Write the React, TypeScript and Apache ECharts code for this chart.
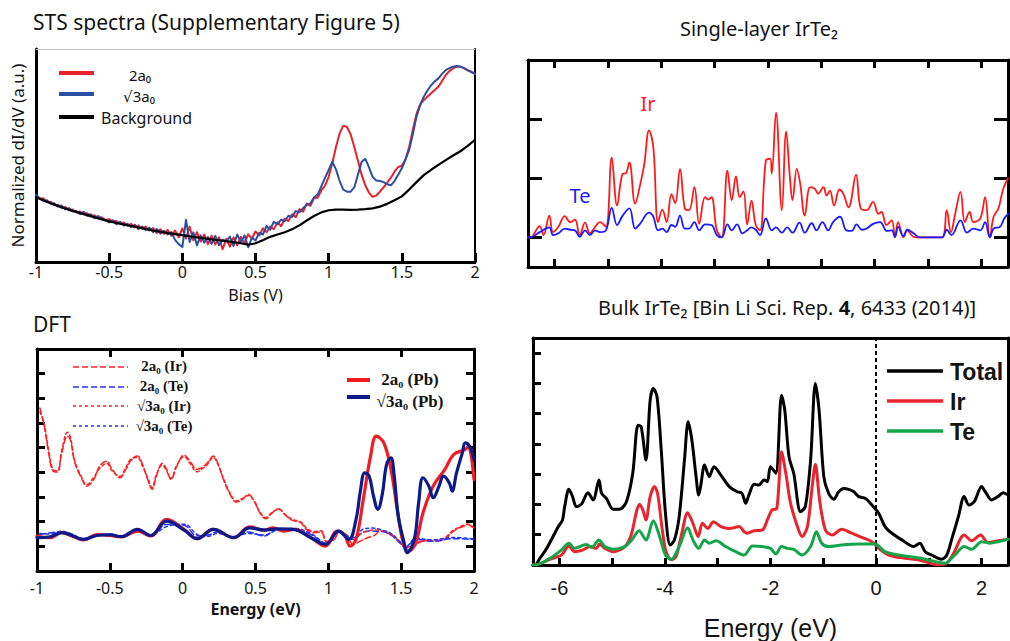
import React, { useEffect, useRef } from "react";
import * as echarts from "echarts";

// ---------------- STS spectra (top-left) ----------------
const STS_START = -1;
const STS_STEP = 0.025;
const STS_RED_2A0 = [
  31.0, 29.6, 29.9, 28.0, 28.3, 26.7, 26.9, 25.4, 25.8, 24.3,
  24.6, 23.3, 23.7, 22.4, 22.9, 21.4, 22.0, 20.5, 21.0, 19.7,
  20.1, 18.9, 19.3, 17.8, 18.6, 17.0, 17.9, 16.2, 17.2, 15.6,
  16.6, 14.8, 15.9, 13.6, 15.4, 13.2, 15.0, 12.4, 14.8, 11.6,
  15.8, 11.0, 16.6, 10.2, 14.0, 9.6, 12.9, 8.4, 12.4, 8.2,
  11.6, 6.0, 10.8, 7.2, 11.6, 7.8, 11.8, 8.8, 13.0, 11.0,
  14.3, 12.4, 15.8, 14.0, 16.6, 15.4, 18.6, 16.8, 20.4, 19.2,
  22.4, 21.0, 24.8, 23.6, 27.4, 26.4, 30.0, 30.2, 33.6, 35.8,
  40.0, 46.5, 54.0, 60.5, 64.0, 63.4, 60.0, 54.0, 47.5, 41.0,
  36.0, 32.6, 30.6, 31.2, 33.0, 35.0, 37.2, 39.6, 42.4, 44.6,
  45.2, 48.2, 54.0, 62.0, 69.5, 74.0, 76.0, 77.6, 79.2, 80.8,
  82.3, 85.0, 87.8, 89.6, 90.9, 91.8, 91.7, 91.0, 90.1, 89.3, 88.3,
];
const STS_BLUE_SQRT3 = [
  31.6, 29.9, 28.7, 29.0, 27.3, 27.6, 26.0, 26.5, 24.7, 25.3,
  23.8, 24.0, 22.5, 23.6, 21.7, 22.4, 20.5, 21.6, 20.3, 19.9,
  18.6, 19.7, 17.7, 18.9, 17.1, 18.0, 16.3, 17.5, 15.4, 16.7,
  14.9, 16.1, 14.0, 15.5, 13.3, 14.7, 12.9, 14.1, 10.4, 8.4,
  7.0, 19.8, 9.4, 13.9, 7.8, 12.5, 9.1, 11.7, 8.5, 12.3,
  7.9, 10.5, 9.7, 11.9, 7.5, 12.9, 9.3, 12.5, 6.9, 11.3,
  10.1, 13.7, 12.9, 16.9, 15.1, 18.9, 17.7, 19.9, 19.1, 21.7,
  21.1, 23.9, 23.3, 25.3, 26.9, 27.5, 30.4, 31.6, 35.5, 39.5,
  43.2, 47.0, 43.5, 38.0, 34.0, 33.0, 33.0, 35.0, 41.0, 47.0,
  48.5, 44.5, 40.0, 38.3, 38.0, 37.5, 36.5, 36.0, 38.0, 41.0,
  44.0, 48.0, 52.6, 60.0, 68.2, 73.5, 77.6, 80.5, 83.0, 84.8,
  86.2, 88.3, 90.1, 91.0, 91.7, 92.0, 91.7, 91.0, 90.0, 89.2, 88.3,
];
const STS_BG_STEP = 0.05;
const STS_BACKGROUND = [
  30.5, 29.0, 27.6, 26.3, 25.1, 24.0, 23.0, 22.0, 21.0, 20.0,
  19.1, 18.3, 17.6, 16.9, 16.2, 15.5, 14.8, 14.2, 13.6, 13.1,
  12.6, 12.1, 11.6, 11.1, 10.6, 10.2, 9.8, 9.3, 8.8, 8.1,
  8.8, 10.2, 11.8, 12.9, 14.0, 15.4, 17.2, 19.5, 21.6, 23.3,
  24.3, 24.6, 24.6, 24.5, 24.6, 24.8, 25.2, 26.0, 27.3, 29.0,
  30.8, 34.0, 37.5, 40.8, 43.3, 45.6, 47.8, 50.0, 52.0, 54.5, 57.3,
];

// ---------------- Single-layer IrTe2 (top-right) ----------------
const SL_IR_E = [
  -6.5, -6.46, -6.28, -6.21, -6.1, -6.03, -5.93, -5.81, -5.71, -5.62, -5.53, -5.43, -5.34, -5.24, -5.15, -5.04,
  -4.93, -4.83, -4.73, -4.66, -4.6, -4.49, -4.4, -4.32, -4.23, -4.15, -4.06, -3.98, -3.9, -3.81, -3.74, -3.65,
  -3.56, -3.48, -3.38, -3.29, -3.18, -3.12, -3.06, -2.96, -2.87, -2.76, -2.68, -2.6, -2.53, -2.46, -2.39, -2.31,
  -2.23, -2.15, -2.04, -1.96, -1.93, -1.85, -1.74, -1.66, -1.59, -1.54, -1.46, -1.4, -1.31, -1.21, -1.12, -1.06,
  -0.96, -0.9, -0.84, -0.76, -0.66, -0.59, -0.49, -0.35, -0.26, -0.15, -0.03, 0.07, 0.13, 0.22, 0.32, 0.38,
  0.44, 0.54, 0.61, 0.73, 0.85, 1.26, 1.35, 1.43, 1.51, 1.61, 1.69, 1.78, 1.85, 1.98, 2.07, 2.16, 2.23, 2.32, 2.41, 2.5,
];
const SL_IR = [
  0, 0, 0.19, 0.04, 0.37, 0.09, 0.18, 0.36, 0.26, 0.3, 0.04, 0.25, 0.07, 0.18, 0.26, 0.18,
  1.35, 0.54, 1.07, 1.09, 1.27, 0.57, 0.88, 1.24, 1.81, 1.52, 0.26, 0.47, 0.26, 0.73, 0.58, 1.16,
  0.49, 0.46, 0.85, 0.23, 0.68, 0.64, 0.68, 0.12, 0, 1.13, 0.63, 1.03, 0.68, 0.78, 0.22, 0.62,
  0.21, 0.12, 1.3, 1.33, 1.08, 2.11, 0.46, 1.79, 1.02, 0.63, 1.16, 0.93, 0.37, 0.85, 0.82, 0.74,
  0.85, 0.71, 0.79, 0.54, 0.81, 0.74, 0.51, 1.06, 0.49, 0.46, 0.6, 0.4, 0.43, 0.21, 0.29, 0,
  0.26, 0, 0.12, 0.01, 0, 0, 0.46, 0.09, 0.4, 0.77, 0.26, 0.43, 0.26, 0.32, 0.68, 0, 0.35, 0.49, 0.82, 1.0,
];
const SL_TE_E = [
  -6.5, -6.46, -6.28, -6.1, -6.03, -5.93, -5.81, -5.71, -5.62, -5.53, -5.43, -5.34, -5.24, -5.15, -5.04,
  -4.93, -4.83, -4.73, -4.6, -4.49, -4.4, -4.23, -4.15, -4.06, -3.98, -3.9, -3.81, -3.74, -3.65, -3.56,
  -3.48, -3.38, -3.29, -3.18, -3.06, -2.96, -2.87, -2.76, -2.68, -2.58, -2.48, -2.39, -2.31, -2.23, -2.15,
  -2.04, -1.93, -1.85, -1.74, -1.64, -1.54, -1.41, -1.31, -1.18, -1.09, -0.98, -0.87, -0.78, -0.65, -0.53,
  -0.43, -0.34, -0.24, -0.15, -0.03, 0.1, 0.23, 0.32, 0.38, 0.44, 0.54, 0.61, 0.73, 0.85, 1.26,
  1.35, 1.44, 1.61, 1.73, 1.85, 1.98, 2.07, 2.16, 2.23, 2.35, 2.43, 2.5,
];
const SL_TE = [
  0, 0, 0.09, 0.17, 0.04, 0.07, 0.15, 0.13, 0.12, 0.01, 0.12, 0.04, 0.12, 0.09, 0.12,
  0.5, 0.21, 0.36, 0.49, 0.15, 0.23, 0.42, 0.35, 0.12, 0.15, 0.09, 0.21, 0.18, 0.37, 0.15,
  0.15, 0.26, 0.12, 0.22, 0.21, 0.04, 0, 0.22, 0.12, 0.22, 0.07, 0.12, 0.17, 0.13, 0.04,
  0.32, 0.12, 0.17, 0.08, 0.17, 0.08, 0.25, 0.08, 0.24, 0.12, 0.26, 0.12, 0.26, 0.35, 0.12,
  0.11, 0.22, 0.13, 0.15, 0.23, 0.26, 0.11, 0.12, 0.01, 0.18, 0.02, 0.13, 0.07, 0, 0,
  0.13, 0.04, 0.29, 0.08, 0.15, 0.12, 0.26, 0, 0.15, 0.18, 0.32, 0.4,
];

// ---------------- DFT (bottom-left) ----------------
const DFT_IR_E = [
  -0.98, -0.95, -0.92, -0.89, -0.86, -0.83, -0.79, -0.77, -0.74, -0.69,
  -0.66, -0.61, -0.57, -0.52, -0.49, -0.43, -0.39, -0.35, -0.31, -0.28,
  -0.24, -0.21, -0.18, -0.14, -0.11, -0.08, -0.04, 0.01, 0.05, 0.1,
  0.13, 0.17, 0.21, 0.24, 0.28, 0.32, 0.37, 0.41, 0.45, 0.49,
  0.53, 0.57, 0.61, 0.66, 0.7, 0.75, 0.81, 0.85, 0.9, 0.95,
  0.99, 1.04, 1.08, 1.13, 1.17, 1.22, 1.27, 1.31, 1.36, 1.4,
  1.45, 1.49, 1.54, 1.59, 1.65, 1.72, 1.79, 1.86, 1.93, 1.96, 2.0,
];
const DFT_2A0_IR = [
  6.61, 5.87, 4.79, 4.05, 4.01, 4.79, 5.47, 5.3, 4.39, 3.71,
  3.44, 3.71, 4.25, 4.45, 4.18, 3.78, 4.12, 4.52, 4.66, 4.39,
  3.71, 3.31, 3.85, 4.36, 4.12, 3.71, 4.25, 4.7, 4.45, 4.12,
  4.18, 4.39, 4.66, 4.39, 3.71, 3.17, 2.79, 2.9, 3.1, 2.83,
  2.36, 2.12, 2.33, 2.52, 2.29, 2.06, 1.96, 1.69, 1.55, 1.58,
  1.15, 1.28, 1.62, 1.42, 1.08, 1.21, 1.35, 1.42, 1.62, 1.58,
  1.42, 1.15, 0.94, 1.01, 1.21, 1.21, 1.26, 1.62, 1.82, 1.89, 1.69,
];
const DFT_SQRT3_IR = [
  6.45, 5.95, 4.9, 4.12, 4.06, 4.9, 5.62, 5.42, 4.45, 3.76,
  3.5, 3.8, 4.16, 4.36, 4.1, 3.84, 4.2, 4.56, 4.6, 4.3,
  3.78, 3.38, 3.92, 4.3, 4.04, 3.76, 4.3, 4.64, 4.36, 4.02,
  4.12, 4.32, 4.6, 4.34, 3.76, 3.22, 2.84, 2.94, 3.06, 2.86,
  2.4, 2.16, 2.36, 2.5, 2.31, 2.1, 1.99, 1.74, 1.6, 1.63,
  1.2, 1.32, 1.6, 1.38, 1.26, 1.5, 1.62, 1.66, 1.64, 1.55,
  1.4, 1.18, 0.98, 1.06, 1.24, 1.26, 1.32, 1.66, 1.86, 1.9, 1.74,
];
const DFT_TE_E = [
  -0.98, -0.91, -0.83, -0.76, -0.68, -0.57, -0.49, -0.43, -0.36, -0.31,
  -0.22, -0.11, 0.01, 0.1, 0.17, 0.24, 0.35, 0.45, 0.56, 0.65,
  0.77, 0.88, 0.99, 1.07, 1.17, 1.24, 1.3, 1.37, 1.43, 1.49,
  1.53, 1.6, 1.72, 1.86, 2.0,
];
const DFT_2A0_TE = [
  1.48, 1.55, 1.58, 1.5, 1.28, 1.48, 1.45, 1.42, 1.55, 1.69,
  1.42, 1.89, 1.85, 1.42, 1.45, 1.58, 1.35, 1.58, 1.42, 1.71,
  1.69, 1.48, 1.08, 1.62, 1.28, 1.58, 1.62, 1.6, 1.45, 1.15,
  0.94, 1.28, 1.21, 1.31, 1.28,
];
const DFT_SQRT3_TE = [
  1.52, 1.5, 1.62, 1.46, 1.32, 1.44, 1.5, 1.38, 1.6, 1.66,
  1.46, 1.8, 1.9, 1.48, 1.4, 1.52, 1.4, 1.52, 1.46, 1.66,
  1.72, 1.52, 1.12, 1.58, 1.36, 1.7, 1.74, 1.66, 1.52, 1.2,
  0.98, 1.32, 1.26, 1.36, 1.3,
];
const DFT_2A0_PB_E = [
  -1.0, -0.91, -0.83, -0.76, -0.68, -0.59, -0.5, -0.42, -0.31, -0.22,
  -0.11, 0.01, 0.1, 0.21, 0.35, 0.46, 0.56, 0.62, 0.69, 0.77,
  0.88, 0.98, 1.06, 1.11, 1.15, 1.19, 1.24, 1.29, 1.33, 1.38,
  1.43, 1.48, 1.52, 1.55, 1.6, 1.65, 1.72, 1.8, 1.86, 1.94, 1.96, 2.0,
];
const DFT_2A0_PB = [
  1.42, 1.35, 1.55, 1.42, 1.26, 1.48, 1.44, 1.39, 1.62, 1.42,
  2.09, 1.69, 1.31, 1.69, 1.35, 1.79, 1.66, 1.75, 1.62, 1.69,
  1.35, 1.01, 1.62, 1.48, 1.01, 1.28, 2.9, 4.66, 5.47, 5.2,
  4.12, 2.23, 1.01, 0.81, 1.15, 2.36, 3.44, 4.12, 4.72, 4.93, 5.06, 3.71,
];
const DFT_SQRT3_PB_E = [
  -1.0, -0.91, -0.83, -0.76, -0.68, -0.59, -0.5, -0.42, -0.31, -0.22,
  -0.11, 0.01, 0.1, 0.21, 0.35, 0.46, 0.56, 0.65, 0.76, 0.88,
  0.98, 1.07, 1.14, 1.19, 1.22, 1.25, 1.28, 1.31, 1.34, 1.37,
  1.4, 1.43, 1.45, 1.48, 1.52, 1.54, 1.59, 1.62, 1.65, 1.69,
  1.72, 1.76, 1.79, 1.83, 1.85, 1.88, 1.92, 1.94, 1.97, 2.0,
];
const DFT_SQRT3_PB = [
  1.35, 1.39, 1.55, 1.44, 1.28, 1.44, 1.47, 1.39, 1.69, 1.44,
  2.02, 1.66, 1.31, 1.69, 1.35, 1.75, 1.66, 1.71, 1.69, 1.35,
  1.08, 1.62, 1.28, 2.09, 3.24, 3.98, 3.85, 3.04, 2.5, 3.1,
  4.32, 4.59, 3.98, 2.23, 1.15, 0.74, 1.28, 2.77, 3.78, 3.44,
  2.97, 3.44, 3.85, 3.58, 3.24, 3.98, 4.79, 5.2, 5.06, 4.52,
];

// ---------------- Bulk IrTe2 (bottom-right) ----------------
const BULK_TOTAL_E = [
  -6.5, -6.46, -6.37, -6.24, -6.12, -6.02, -5.94, -5.9, -5.82, -5.75, -5.68, -5.58, -5.46, -5.36, -5.25, -5.2,
  -5.11, -4.98, -4.86, -4.73, -4.61, -4.51, -4.45, -4.36, -4.28, -4.22, -4.15, -4.07, -3.99, -3.9, -3.82, -3.73,
  -3.63, -3.56, -3.49, -3.41, -3.36, -3.32, -3.25, -3.16, -3.07, -2.94, -2.78, -2.63, -2.54, -2.47, -2.41, -2.31,
  -2.22, -2.12, -2.06, -2.0, -1.9, -1.79, -1.73, -1.65, -1.56, -1.43, -1.34, -1.24, -1.15, -1.08, -0.99, -0.9,
  -0.8, -0.71, -0.61, -0.52, -0.42, -0.33, -0.2, -0.08, 0.05, 0.17, 0.3, 0.49, 0.71, 0.83, 0.93, 1.05,
  1.24, 1.34, 1.43, 1.56, 1.67, 1.76, 1.86, 2.0, 2.07, 2.19, 2.31, 2.41, 2.5,
];
const BULK_TOTAL = [
  0, 0, 0.22, 0.55, 0.94, 1.27, 1.49, 1.93, 2.5, 2.26, 1.93, 2.01, 2.39, 2.15, 2.81, 2.37,
  2.2, 1.84, 1.84, 2.09, 3.03, 4.62, 4.57, 3.47, 5.45, 5.83, 5.56, 3.8, 1.71, 0.66, 0.83, 1.6,
  3.47, 4.73, 4.13, 2.92, 2.31, 2.64, 3.3, 2.92, 3.25, 2.97, 2.59, 2.42, 2.37, 2.04, 2.31, 2.67,
  2.64, 2.81, 2.75, 3.25, 3.03, 5.61, 5.12, 3.58, 3.03, 1.76, 1.93, 3.47, 6.0, 5.12, 2.92, 2.37,
  2.17, 2.42, 2.53, 2.5, 2.42, 2.26, 2.2, 1.98, 1.71, 1.27, 1.05, 0.83, 0.61, 0.72, 0.44, 0.33,
  0.19, 0.33, 0.83, 1.6, 2.26, 1.98, 2.09, 2.59, 2.42, 2.15, 2.26, 2.39, 2.31,
];
const BULK_IR_E = [
  -6.5, -6.46, -6.18, -5.96, -5.82, -5.71, -5.55, -5.42, -5.3, -5.24, -5.14, -4.98, -4.76, -4.64, -4.54, -4.48,
  -4.42, -4.36, -4.28, -4.2, -4.14, -4.05, -3.98, -3.88, -3.79, -3.68, -3.57, -3.47, -3.37, -3.29, -3.19, -3.08,
  -2.94, -2.78, -2.59, -2.5, -2.44, -2.31, -2.15, -2.06, -1.97, -1.88, -1.79, -1.71, -1.62, -1.49, -1.4, -1.3,
  -1.21, -1.15, -1.07, -0.96, -0.83, -0.65, -0.46, -0.27, -0.08, 0.05, 0.24, 0.55, 0.8, 0.93, 1.18, 1.34,
  1.47, 1.67, 1.81, 1.98, 2.12, 2.31, 2.5,
];
const BULK_IR = [
  0, 0, 0.19, 0.33, 0.63, 0.44, 0.5, 0.61, 0.55, 0.69, 0.55, 0.44, 0.61, 0.99, 1.76, 2.01,
  1.82, 1.49, 2.26, 2.59, 2.37, 1.16, 0.44, 0.17, 0.28, 1.05, 1.73, 1.38, 0.94, 1.38, 1.21, 1.43,
  1.27, 1.21, 1.27, 1.1, 1.05, 1.13, 1.16, 1.49, 1.82, 1.87, 3.74, 3.03, 2.04, 1.27, 0.94, 1.27,
  2.59, 3.33, 2.15, 1.16, 0.99, 1.18, 1.05, 0.91, 0.77, 0.55, 0.33, 0.22, 0.17, 0.11, 0, 0.06,
  0.39, 0.99, 0.8, 0.99, 0.74, 0.8, 0.85,
];
const BULK_TE_E = [
  -6.5, -6.46, -6.18, -5.96, -5.82, -5.71, -5.49, -5.39, -5.25, -5.14, -4.98, -4.76, -4.64, -4.49, -4.36, -4.22,
  -4.12, -3.99, -3.88, -3.73, -3.57, -3.47, -3.36, -3.25, -3.16, -3.03, -2.85, -2.66, -2.5, -2.34, -2.15, -2.0,
  -1.9, -1.79, -1.68, -1.56, -1.4, -1.24, -1.13, -1.03, -0.9, -0.65, -0.33, -0.02, 0.17, 0.42, 0.86, 1.05,
  1.3, 1.49, 1.67, 1.81, 2.0, 2.16, 2.31, 2.5,
];
const BULK_TE = [
  0, 0, 0.22, 0.5, 0.72, 0.55, 0.68, 0.58, 0.83, 0.61, 0.52, 0.61, 0.8, 1.13, 0.83, 1.46,
  1.05, 0.33, 0.19, 0.61, 1.23, 0.83, 0.55, 0.83, 0.72, 0.8, 0.61, 0.44, 0.33, 0.63, 0.61, 0.55,
  0.36, 0.61, 0.55, 0.52, 0.33, 0.61, 1.1, 0.72, 0.61, 0.66, 0.69, 0.69, 0.44, 0.33, 0.22, 0.14,
  0.06, 0.33, 0.61, 0.52, 0.77, 0.72, 0.77, 0.85,
];

const SL_TICKS = [-6, -5, -4, -3, -2, -1, 0, 1, 2];
const BULK_LABELS = [-6, -4, -2, 0, 2];

// ---------------- helpers ----------------
const zip = (xs: number[], ys: number[]) => xs.map((x, i) => [x, ys[i]]);
const grid0 = (start: number, step: number, ys: number[]) =>
  ys.map((y, i) => [Math.round((start + i * step) * 1000) / 1000, y]);

const SANS = '"Noto Sans", "DejaVu Sans", sans-serif';
const ARIAL = '"Liberation Sans", Arial, sans-serif';
const SERIF = '"Liberation Serif", "DejaVu Serif", serif';
const INK = "#141414";

const lineSeries = (
  name: string,
  xi: number,
  data: number[][],
  color: string,
  width: number,
  type: any = "solid",
  smooth: number | boolean = false,
  z = 3
) => ({
  type: "line",
  name,
  xAxisIndex: xi,
  yAxisIndex: xi,
  data,
  symbol: "none",
  showSymbol: false,
  smooth,
  silent: true,
  z,
  lineStyle: { color, width, type, cap: "round", join: "round" },
  itemStyle: { color },
});

const txt = (x: number, y: number, text: string, font: string, fill = INK, align = "left") => ({
  type: "text",
  x,
  y,
  z: 100,
  silent: true,
  style: { text, font, fill, textAlign: align, textVerticalAlign: "middle", verticalAlign: "middle" },
});
const seg = (x1: number, y1: number, x2: number, y2: number, stroke: string, lineWidth: number, lineDash?: number[]) => ({
  type: "line",
  z: 100,
  silent: true,
  shape: { x1, y1, x2, y2 },
  style: { stroke, lineWidth, lineDash },
});

const blackLine = (w: number) => ({ show: true, onZero: false, lineStyle: { color: "#000", width: w } });
const noLabel = { show: false };
const noSplit = { show: false };

export default function App() {
  const ref = useRef<HTMLDivElement>(null);

  useEffect(() => {
    if (!ref.current) return;
    const chart = echarts.init(ref.current, null, { renderer: "svg" });

    const option: any = {
      animation: false,
      backgroundColor: "#ffffff",
      grid: [
        { left: 36, top: 49, width: 439, height: 213 },
        { left: 528, top: 60, width: 480, height: 207 },
        { left: 37, top: 349, width: 437, height: 222 },
        { left: 533, top: 338, width: 475, height: 227 },
      ],
      xAxis: [
        {
          gridIndex: 0, type: "value", min: -1, max: 2, interval: 0.5, position: "bottom",
          axisLine: blackLine(3),
          axisTick: { show: true, inside: true, length: 9, lineStyle: { color: "#000", width: 3 } },
          axisLabel: { show: true, margin: 2, fontSize: 16, lineHeight: 15, fontFamily: SANS, color: INK },
          splitLine: noSplit,
          name: "Bias (V)", nameLocation: "middle", nameGap: 25,
          nameTextStyle: { fontSize: 16, fontFamily: SANS, color: INK, lineHeight: 15 },
        },
        {
          gridIndex: 1, type: "value", min: -6.5, max: 2.5, position: "bottom",
          axisLine: blackLine(3),
          axisTick: { show: true, inside: true, length: 8, customValues: SL_TICKS, lineStyle: { color: "#000", width: 3 } },
          axisLabel: noLabel, splitLine: noSplit,
        },
        {
          gridIndex: 2, type: "value", min: -1, max: 2, interval: 0.5, position: "bottom",
          axisLine: blackLine(3),
          axisTick: { show: true, inside: true, length: 8, lineStyle: { color: "#000", width: 3 } },
          axisLabel: { show: true, margin: 9, fontSize: 16, fontFamily: SANS, color: INK },
          splitLine: noSplit,
          name: "Energy (eV)", nameLocation: "middle", nameGap: 30,
          nameTextStyle: { fontSize: 16, fontWeight: "bold", fontFamily: SANS, color: INK },
        },
        {
          gridIndex: 3, type: "value", min: -6.5, max: 2.5, position: "bottom",
          axisLine: blackLine(3),
          axisTick: { show: true, inside: true, length: 7, customValues: SL_TICKS, lineStyle: { color: "#000", width: 3 } },
          axisLabel: { show: true, customValues: BULK_LABELS, margin: 13, fontSize: 20, fontFamily: ARIAL, color: INK },
          splitLine: noSplit,
          name: "Energy (eV)", nameLocation: "middle", nameGap: 50,
          nameTextStyle: { fontSize: 25, fontFamily: ARIAL, color: INK },
        },
        // top companions
        {
          gridIndex: 0, type: "value", min: -1, max: 2, position: "top",
          axisLine: { show: true, onZero: false, lineStyle: { color: "#c4c4c4", width: 1 } },
          axisTick: { show: false }, axisLabel: noLabel, splitLine: noSplit,
        },
        {
          gridIndex: 1, type: "value", min: -6.5, max: 2.5, position: "top",
          axisLine: blackLine(3),
          axisTick: { show: true, inside: true, length: 8, customValues: SL_TICKS, lineStyle: { color: "#000", width: 3 } },
          axisLabel: noLabel, splitLine: noSplit,
        },
        {
          gridIndex: 2, type: "value", min: -1, max: 2, interval: 0.5, position: "top",
          axisLine: blackLine(3),
          axisTick: { show: true, inside: true, length: 8, lineStyle: { color: "#000", width: 3 } },
          axisLabel: noLabel, splitLine: noSplit,
        },
        {
          gridIndex: 3, type: "value", min: -6.5, max: 2.5, position: "top",
          axisLine: blackLine(3), axisTick: { show: false }, axisLabel: noLabel, splitLine: noSplit,
        },
      ],
      yAxis: [
        {
          gridIndex: 0, type: "value", min: 0, max: 100, position: "left",
          axisLine: blackLine(3), axisTick: { show: false }, axisLabel: noLabel, splitLine: noSplit,
          name: "Normalized dI/dV (a.u.)", nameLocation: "middle", nameRotate: 90, nameGap: 10,
          nameTextStyle: { fontSize: 17, fontFamily: SANS, color: INK },
        },
        {
          gridIndex: 1, type: "value", min: -0.5, max: 3, position: "left",
          axisLine: blackLine(3),
          axisTick: { show: true, inside: true, length: 14, customValues: [0, 1, 2], lineStyle: { color: "#000", width: 3 } },
          axisLabel: noLabel, splitLine: noSplit,
        },
        {
          gridIndex: 2, type: "value", min: 0, max: 9, interval: 1, position: "left",
          axisLine: blackLine(3),
          axisTick: { show: true, inside: true, length: 8, lineStyle: { color: "#000", width: 3 } },
          axisLabel: noLabel, splitLine: noSplit,
        },
        {
          gridIndex: 3, type: "value", min: 0, max: 7.5, interval: 1, position: "left",
          axisLine: blackLine(3),
          axisTick: { show: true, inside: true, length: 8, lineStyle: { color: "#000", width: 3 } },
          axisLabel: noLabel, splitLine: noSplit,
        },
        {
          gridIndex: 0, type: "value", min: 0, max: 100, position: "right",
          axisLine: blackLine(2), axisTick: { show: false }, axisLabel: noLabel, splitLine: noSplit,
        },
        {
          gridIndex: 1, type: "value", min: -0.5, max: 3, position: "right",
          axisLine: blackLine(3),
          axisTick: { show: true, inside: true, length: 14, customValues: [0, 1, 2], lineStyle: { color: "#000", width: 3 } },
          axisLabel: noLabel, splitLine: noSplit,
        },
        {
          gridIndex: 2, type: "value", min: 0, max: 9, interval: 1, position: "right",
          axisLine: blackLine(3),
          axisTick: { show: true, inside: true, length: 8, lineStyle: { color: "#000", width: 3 } },
          axisLabel: noLabel, splitLine: noSplit,
        },
        {
          gridIndex: 3, type: "value", min: 0, max: 7.5, position: "right",
          axisLine: blackLine(3), axisTick: { show: false }, axisLabel: noLabel, splitLine: noSplit,
        },
      ],
      series: [
        // STS
        lineSeries("2a0", 0, grid0(STS_START, STS_STEP, STS_RED_2A0), "#e8212a", 2),
        lineSeries("√3a0", 0, grid0(STS_START, STS_STEP, STS_BLUE_SQRT3), "#2b4fa3", 2),
        lineSeries("Background", 0, grid0(STS_START, STS_BG_STEP, STS_BACKGROUND), "#000000", 2.2),
        // Single layer
        lineSeries("Ir", 1, zip(SL_IR_E, SL_IR), "#ff1a1a", 1.8, "solid", 0.4),
        lineSeries("Te", 1, zip(SL_TE_E, SL_TE), "#1a1aff", 1.8, "solid", 0.4, 4),
        // DFT
        lineSeries("2a0 (Ir)", 2, zip(DFT_IR_E, DFT_2A0_IR), "#ff2020", 1.5, [6, 3], 0.4),
        lineSeries("2a0 (Te)", 2, zip(DFT_TE_E, DFT_2A0_TE), "#2233ff", 1.5, [6, 3], 0.4),
        lineSeries("√3a0 (Ir)", 2, zip(DFT_IR_E, DFT_SQRT3_IR), "#ff2020", 1.5, [3, 3], 0.4),
        lineSeries("√3a0 (Te)", 2, zip(DFT_TE_E, DFT_SQRT3_TE), "#2233ff", 1.5, [3, 3], 0.4),
        lineSeries("2a0 (Pb)", 2, zip(DFT_2A0_PB_E, DFT_2A0_PB), "#f01c24", 3.2, "solid", 0.4, 5),
        lineSeries("√3a0 (Pb)", 2, zip(DFT_SQRT3_PB_E, DFT_SQRT3_PB), "#0c1a8a", 3.2, "solid", 0.4, 6),
        // Bulk
        {
          ...lineSeries("Total", 3, zip(BULK_TOTAL_E, BULK_TOTAL), "#000000", 3, "solid", 0.3),
          markLine: {
            silent: true,
            symbol: "none",
            label: { show: false },
            lineStyle: { color: "#000", width: 2, type: [4, 3] },
            data: [{ xAxis: 0 }],
          },
        },
        lineSeries("Ir bulk", 3, zip(BULK_IR_E, BULK_IR), "#e8242c", 3, "solid", 0.3, 4),
        lineSeries("Te bulk", 3, zip(BULK_TE_E, BULK_TE), "#13a54a", 3, "solid", 0.3, 5),
      ],
      graphic: [
        // titles
        txt(33, 22, "STS spectra (Supplementary Figure 5)", `21px ${SANS}`),
        txt(759, 28, "Single-layer IrTe₂", `20px ${SANS}`, INK, "center"),
        {
          type: "text",
          x: 787,
          y: 307,
          z: 100,
          silent: true,
          style: {
            text: "{n|Bulk IrTe₂ [Bin Li Sci. Rep. }{b|4}{n|, 6433 (2014)]}",
            textAlign: "center",
            textVerticalAlign: "middle",
            verticalAlign: "middle",
            rich: {
              n: { fontSize: 20, fontFamily: SANS, fill: INK },
              b: { fontSize: 20, fontFamily: SANS, fontWeight: "bold", fill: INK },
            },
          },
        },
        txt(33, 324, "DFT", `21px ${SANS}`),
        // STS legend
        seg(59, 73, 94, 73, "#e8212a", 4),
        seg(59, 94, 94, 94, "#2b4fa3", 4),
        seg(59, 117, 94, 117, "#000000", 4),
        txt(140, 75, "2a₀", `15px ${SANS}`, INK, "center"),
        txt(139, 96, "√3a₀", `15px ${SANS}`, INK, "center"),
        txt(101, 118, "Background", `16px ${SANS}`),
        // single layer annotations
        txt(648, 103, "Ir", `20px ${SANS}`, "#ff1a1a", "center"),
        txt(580, 195, "Te", `20px ${SANS}`, "#1a1aff", "center"),
        // DFT legend (left)
        seg(73, 367, 128, 367, "#ff2020", 1.5, [6, 3]),
        seg(73, 387, 128, 387, "#2233ff", 1.5, [6, 3]),
        seg(73, 406, 128, 406, "#ff2020", 1.5, [3, 3]),
        seg(73, 426, 128, 426, "#2233ff", 1.5, [3, 3]),
        txt(164, 366, "2a₀ (Ir)", `bold 15px ${SERIF}`, INK, "center"),
        txt(164, 386, "2a₀ (Te)", `bold 15px ${SERIF}`, INK, "center"),
        txt(164, 406, "√3a₀ (Ir)", `bold 15px ${SERIF}`, INK, "center"),
        txt(164, 426, "√3a₀ (Te)", `bold 15px ${SERIF}`, INK, "center"),
        // DFT legend (right)
        seg(347, 380, 370, 380, "#f01c24", 4),
        seg(347, 397, 370, 397, "#0c1a8a", 4),
        txt(410, 379, "2a₀ (Pb)", `bold 17px ${SERIF}`, INK, "center"),
        txt(410, 401, "√3a₀ (Pb)", `bold 17px ${SERIF}`, INK, "center"),
        // Bulk legend
        seg(887, 371, 943, 371, "#000000", 3.5),
        seg(887, 401, 943, 401, "#e8242c", 3.5),
        seg(887, 431, 943, 431, "#13a54a", 3.5),
        txt(950, 372, "Total", `bold 23px ${ARIAL}`),
        txt(950, 402, "Ir", `bold 23px ${ARIAL}`),
        txt(950, 432, "Te", `bold 23px ${ARIAL}`),
      ],
    };

    chart.setOption(option);
    return () => chart.dispose();
  }, []);

  return (
    <div
      ref={ref}
      style={{ position: "absolute", left: 0, top: 0, width: 1010, height: 641, background: "#fff" }}
    />
  );
}
